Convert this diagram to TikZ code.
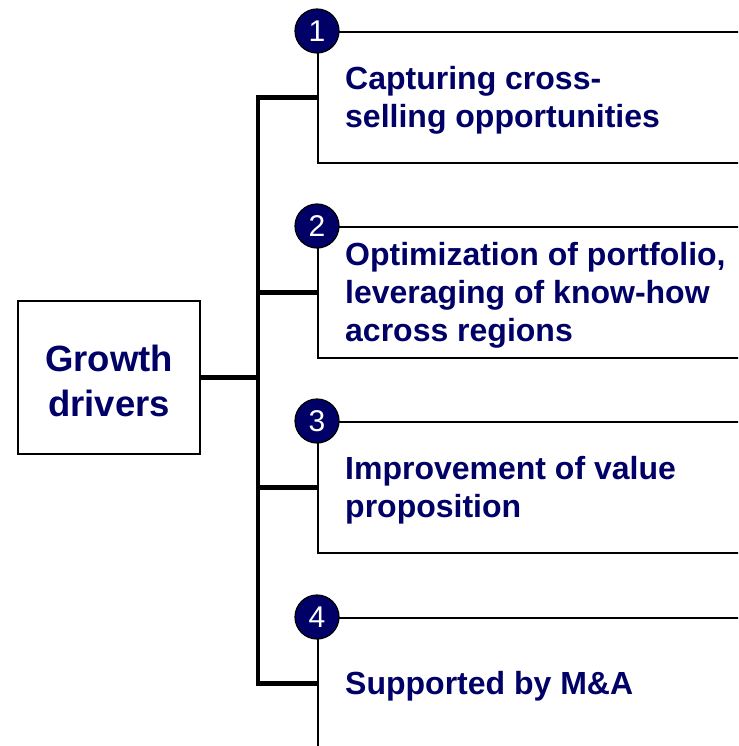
\documentclass[tikz,border=0pt]{standalone}
\usepackage{fontspec}
\setmainfont{Liberation Sans}
\definecolor{navy}{RGB}{0,0,102}
\begin{document}
\begin{tikzpicture}[x=1pt,y=-1pt,
  itembox/.style={draw=black,line width=1.6pt,minimum width=443pt,minimum height=131pt,inner sep=0pt,anchor=north west},
  itemtext/.style={anchor=west,align=left,inner sep=0pt,text=navy,font=\bfseries\fontsize{32}{38}\selectfont},
  numdot/.style={circle,draw=black,line width=1.2pt,fill=navy,minimum size=44pt,inner sep=0pt,text=white,font=\fontsize{30}{30}\selectfont},
  trunk/.style={line width=4.5pt,line cap=rect}]
\useasboundingbox (0,0) rectangle (738,746);
\clip (0,0) rectangle (738,746);
\node[draw=black,line width=1.6pt,minimum width=182pt,minimum height=153pt,inner sep=0pt] (growth) at (109,377.5) {};
\node[inner sep=0pt,align=center,text=navy,font=\bfseries\fontsize{36.5}{45}\selectfont] (gtext) at ([yshift=-3pt]growth.center) {Growth\\drivers};
\node[itembox] (b1) at (317,31) {};
\node[itembox] (b2) at (317,226) {};
\node[itembox] (b3) at (317,421) {};
\node[itembox] (b4) at (317,617) {};
\node[itemtext] (t1) at ([xshift=28pt,yshift=-2.5pt]b1.west) {Capturing cross-\\selling opportunities};
\node[itemtext] (t2) at ([xshift=28pt,yshift=-2.5pt]b2.west) {Optimization of portfolio,\\leveraging of know-how\\across regions};
\node[itemtext] (t3) at ([xshift=28pt,yshift=-2.5pt]b3.west) {Improvement of value\\proposition};
\node[itemtext] (t4) at ([xshift=28pt,yshift=-2.5pt]b4.west) {Supported by M\&A};
\coordinate (tr) at (258,0);
\draw[trunk] (b1.west) -- (b1.west -| tr) -- (b4.west -| tr) -- (b4.west);
\draw[trunk] (b2.west -| tr) -- (b2.west);
\draw[trunk] (b3.west -| tr) -- (b3.west);
\draw[trunk] (growth.east) -- (growth.east -| tr);
\node[numdot] (n1) at (b1.north west) {1};
\node[numdot] (n2) at (b2.north west) {2};
\node[numdot] (n3) at (b3.north west) {3};
\node[numdot] (n4) at (b4.north west) {4};
\end{tikzpicture}
\end{document}
